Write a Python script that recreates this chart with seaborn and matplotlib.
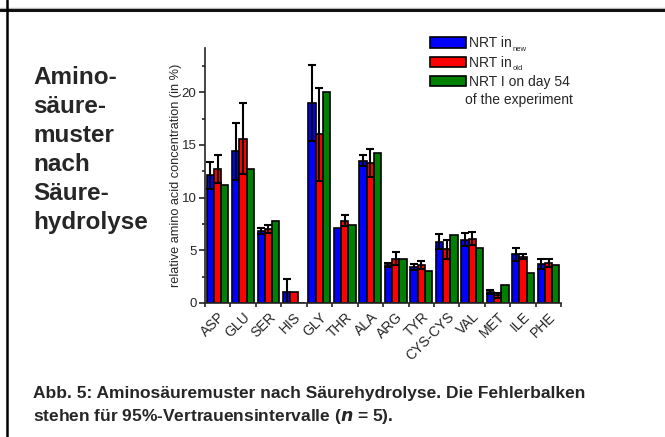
"""Aminosäuremuster nach Säurehydrolyse: grouped bars with 95% CI error bars."""

import numpy as np
import pandas as pd
import matplotlib
matplotlib.use("Agg")
import matplotlib.pyplot as plt
from matplotlib.lines import Line2D
from matplotlib.patches import Patch
import seaborn as sns

amino_acids = ["ASP", "GLU", "SER", "HIS", "GLY", "THR", "ALA", "ARG", "TYR",
               "CYS-CYS", "VAL", "MET", "ILE", "PHE"]

nrt_new = [12.1, 14.4, 6.8, 1.0, 19.0, 7.1, 13.5, 3.6, 3.4, 5.8, 6.0, 1.0, 4.6, 3.7]
nrt_new_err = [1.3, 2.7, 0.3, 1.3, 3.6, 0.0, 0.5, 0.2, 0.3, 0.7, 0.6, 0.2, 0.6, 0.5]

nrt_old = [12.7, 15.6, 7.0, 1.0, 16.0, 7.8, 13.3, 4.2, 3.6, 5.1, 6.1, 0.7, 4.4, 3.8]
nrt_old_err = [1.3, 3.4, 0.4, 0.0, 4.4, 0.5, 1.3, 0.6, 0.4, 0.9, 0.6, 0.2, 0.2, 0.4]

nrt_day54 = [11.2, 12.7, 7.8, 0.0, 20.0, 7.4, 14.2, 4.2, 3.0, 6.4, 5.2, 1.7, 2.8, 3.6]

series_labels = ["NRT in", "NRT in", "NRT I on day 54"]
series_subs = ["new", "old", None]
colors = ["#0000ff", "#ff0000", "#008000"]

df = pd.DataFrame({
    "aa": amino_acids * 3,
    "value": nrt_new + nrt_old + nrt_day54,
    "series": ["new"] * 14 + ["old"] * 14 + ["day54"] * 14,
})
errors = [nrt_new_err, nrt_old_err, None]

sns.set_style("ticks")
plt.rcParams["font.family"] = ["Liberation Sans", "DejaVu Sans"]

fig = plt.figure(figsize=(6.65, 4.37), dpi=100)
ax = fig.add_axes([0.308, 0.307, 0.536, 0.583])

sns.barplot(data=df, x="aa", y="value", hue="series", palette=colors,
            saturation=1, width=0.86, gap=0, edgecolor="black", linewidth=1.2,
            errorbar=None, legend=False, ax=ax)

for cont, err in zip(ax.containers, errors):
    if err is None:
        continue
    xs = [b.get_x() + b.get_width() / 2 for b in cont]
    ys = [b.get_height() for b in cont]
    e = np.array(err, dtype=float)
    mask = e > 0
    ax.errorbar(np.array(xs)[mask], np.array(ys)[mask], yerr=e[mask], fmt="none",
                ecolor="black", elinewidth=1.5, capsize=3, capthick=1.5)

ax.set_xlim(-0.5, 13.5)
ax.set_ylim(0, 24.2)
ax.set_yticks([0, 5, 10, 15, 20])
ax.set_yticks(np.arange(2.5, 24, 5), minor=True)
ax.set_xticks(np.arange(-0.5, 14, 1), minor=True)
ax.tick_params(axis="x", which="major", length=0, pad=5)
ax.tick_params(axis="x", which="minor", length=3, width=1.2)
ax.tick_params(axis="y", which="major", length=4, width=1.2, labelsize=9.5, pad=2)
ax.tick_params(axis="y", which="minor", length=2, width=1.2)
ax.set_xticks(range(len(amino_acids)))
ax.set_xticklabels(amino_acids, rotation=45, ha="right", rotation_mode="anchor",
                   fontsize=10)
ax.set_xlabel("")
ax.set_ylabel("relative amino acid concentration (in %)", fontsize=9.2, labelpad=0)
for s in ["top", "right"]:
    ax.spines[s].set_visible(False)
for s in ["left", "bottom"]:
    ax.spines[s].set_linewidth(1.2)

handles = [Patch(facecolor=c, edgecolor="black", linewidth=1.2) for c in colors]
leg = ax.legend(handles, series_labels, loc="upper left",
                bbox_to_anchor=(0.616, 1.068), frameon=False, fontsize=10,
                handlelength=2.6, handleheight=0.75, handletextpad=0.2,
                labelspacing=0.38, borderaxespad=0)
ax.text(0.88, 0.795, "of the experiment", transform=ax.transAxes,
        fontsize=10, ha="center", va="center")

# tiny subscripts after the legend labels
fig.canvas.draw()
inv = fig.transFigure.inverted()
for txt, sub in zip(leg.get_texts(), series_subs):
    if sub is None:
        continue
    bb = txt.get_window_extent()
    x0, y0 = inv.transform((bb.x1 + 1, bb.y0 + 1))
    fig.text(x0, y0, sub, fontsize=5.5, ha="left", va="center")

fig.text(0.05, 0.848, "Amino-\nsäure-\nmuster\nnach\nSäure-\nhydrolyse",
         fontsize=17.5, fontweight="bold", va="top", ha="left", linespacing=1.33)

fig.text(0.05, 0.116,
         "Abb. 5: Aminosäuremuster nach Säurehydrolyse. Die Fehlerbalken\n"
         "stehen für 95%-Vertrauensintervalle ($\\mathbfit{n}$ = 5).",
         fontsize=12.5, fontweight="bold", va="top", ha="left", linespacing=1.42)

# page frame lines
fig.add_artist(Line2D([0, 1], [0.982, 0.982], color="#bbbbbb", linewidth=1,
                      transform=fig.transFigure))
fig.add_artist(Line2D([0, 1], [0.978, 0.978], color="#111111", linewidth=2.2,
                      transform=fig.transFigure))
fig.add_artist(Line2D([0.0098, 0.0098], [0, 1], color="black", linewidth=1.8,
                      transform=fig.transFigure))

fig.savefig("out.png", dpi=100)
plt.close(fig)
